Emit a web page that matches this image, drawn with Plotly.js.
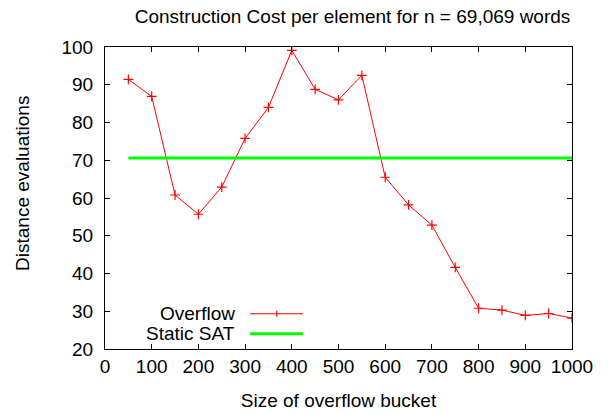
<!DOCTYPE html>
<html>
<head>
<meta charset="utf-8">
<script src="https://cdn.plot.ly/plotly-3.0.1.min.js"></script>
<style>html,body{margin:0;padding:0;background:#fff;}#chart{width:610px;height:414px;}</style>
</head>
<body>
<div id="chart"></div>
<script>
// Data
const bucketSizes = [50,100,150,200,250,300,350,400,450,500,550,600,650,700,750,800,850,900,950,1000];
const overflowEvals = [91.4,86.9,60.8,55.7,62.9,75.8,84.0,99.1,88.8,86.0,92.5,65.5,58.2,52.8,41.6,30.8,30.3,28.9,29.4,28.2];
const staticSatX = [50,1000];
const staticSatEvals = [70.6,70.6];
const seriesNames = ["Overflow","Static SAT"];
const xTickVals = [0,100,200,300,400,500,600,700,800,900,1000];
const yTickVals = [20,30,40,50,60,70,80,90,100];

const FONT = "Liberation Sans, Arial, Helvetica, sans-serif";
const FS = 19;

// plot area in pixels
const L = 104.7, R = 572.3, T = 46.7, B = 349.3;
const px2x = p => (p - L) / (R - L);
const px2y = p => (B - p) / (B - T);

const traces = [
  {x: bucketSizes, y: overflowEvals, name: seriesNames[0], type: 'scatter', mode: 'lines+markers',
   line: {color: '#ff0000', width: 1},
   marker: {symbol: 'cross-thin-open', size: 7, color: '#ff0000', line: {color: '#ff0000', width: 1.2}}},
  {x: staticSatX, y: staticSatEvals, name: seriesNames[1], type: 'scatter', mode: 'lines',
   line: {color: '#00ff00', width: 3}}
];

const axisCommon = {
  showline: true, linecolor: '#000', linewidth: 1, mirror: 'ticks',
  ticks: 'inside', ticklen: 5, tickwidth: 1, tickcolor: '#000',
  showgrid: false, zeroline: false, tickfont: {family: FONT, size: FS, color: '#000'}
};

const layout = {
  width: 610, height: 414,
  margin: {l: L, r: 610 - R, t: T, b: 414 - B, pad: 0},
  paper_bgcolor: '#fff', plot_bgcolor: '#fff',
  showlegend: false,
  font: {family: FONT, size: FS, color: '#000'},
  title: {text: 'Construction Cost per element for n = 69,069 words', x: 352.5/610, xref: 'container', xanchor: 'center',
          y: 1 - 16/414, yref: 'container', yanchor: 'middle', font: {family: FONT, size: FS, color: '#000'}},
  xaxis: Object.assign({}, axisCommon, {range: [0, 1000], tickvals: xTickVals,
          title: {text: 'Size of overflow bucket', font: {family: FONT, size: FS, color: '#000'}, standoff: 17}}),
  yaxis: Object.assign({}, axisCommon, {range: [20, 100], tickvals: yTickVals, ticklabelstandoff: 7}),
  annotations: [
    {text: 'Distance evaluations', xref: 'paper', yref: 'paper', x: px2x(22), y: px2y(183.5), textangle: -90,
     showarrow: false, xanchor: 'center', yanchor: 'middle', font: {family: FONT, size: FS, color: '#000'}},
    {text: seriesNames[0], xref: 'paper', yref: 'paper', x: px2x(237), y: px2y(314), showarrow: false,
     xanchor: 'right', yanchor: 'middle', font: {family: FONT, size: FS, color: '#000'}},
    {text: seriesNames[1], xref: 'paper', yref: 'paper', x: px2x(237), y: px2y(334), showarrow: false,
     xanchor: 'right', yanchor: 'middle', font: {family: FONT, size: FS, color: '#000'}}
  ],
  shapes: [
    {type: 'line', xref: 'paper', yref: 'paper', x0: px2x(250), x1: px2x(303), y0: px2y(314), y1: px2y(314), line: {color: '#ff0000', width: 1}},
    {type: 'line', xref: 'paper', yref: 'paper', x0: px2x(276.7), x1: px2x(276.7), y0: px2y(311), y1: px2y(317), line: {color: '#ff0000', width: 1.2}},
    {type: 'line', xref: 'paper', yref: 'paper', x0: px2x(250), x1: px2x(303), y0: px2y(334), y1: px2y(334), line: {color: '#00ff00', width: 3}}
  ]
};

Plotly.newPlot('chart', traces, layout, {displayModeBar: false, staticPlot: true});
</script>
</body>
</html>
